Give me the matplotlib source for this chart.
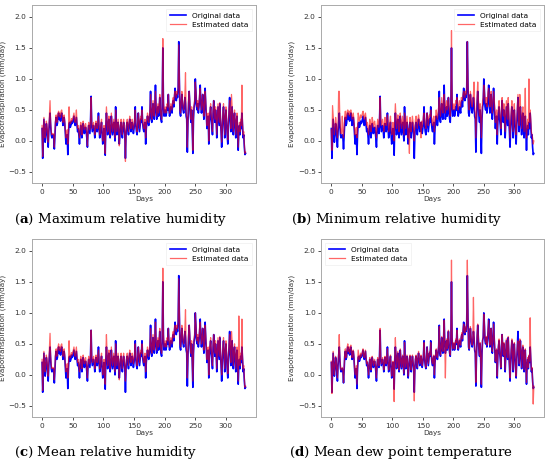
import numpy as np
import matplotlib
matplotlib.use("Agg")
import matplotlib.pyplot as plt

plt.rcParams["mathtext.fontset"] = "dejavuserif"

# daily evapotranspiration (mm/day)
original = [
    0.20, -0.28, 0.05, 0.35, 0.15, -0.02, 0.10, 0.28, 0.20, 0.05,
    -0.10, 0.15, 0.30, 0.45, 0.25, 0.10, 0.05, 0.08, 0.10, 0.05,
    -0.13, 0.10, 0.30, 0.38, 0.25, 0.28, 0.40, 0.45, 0.35, 0.40,
    0.32, 0.42, 0.45, 0.38, 0.25, 0.30, 0.38, 0.28, 0.10, -0.05,
    0.05, 0.10, -0.22, 0.10, 0.28, 0.30, 0.22, 0.25, 0.32, 0.28,
    0.30, 0.35, 0.40, 0.30, 0.25, 0.32, 0.38, 0.25, 0.15, 0.20,
    0.10, -0.05, 0.12, 0.25, 0.20, 0.05, 0.15, 0.28, 0.22, 0.12,
    0.18, 0.22, 0.15, 0.05, -0.10, 0.15, 0.25, 0.18, 0.12, 0.30,
    0.72, 0.25, 0.15, 0.20, 0.25, 0.18, 0.05, 0.15, 0.28, 0.20,
    0.15, 0.25, 0.45, 0.20, 0.05, 0.12, 0.22, 0.30, 0.10, -0.05,
    0.05, 0.20, 0.15, -0.23, 0.25, 0.45, 0.30, 0.10, 0.20, 0.35,
    0.20, 0.05, 0.15, 0.40, 0.25, 0.10, 0.20, 0.30, 0.15, 0.00,
    0.55, 0.25, 0.10, 0.20, 0.30, 0.15, -0.05, 0.10, 0.25, 0.30,
    0.15, 0.05, 0.20, 0.30, 0.20, 0.10, -0.28, 0.10, 0.25, 0.30,
    0.20, 0.10, 0.25, 0.35, 0.25, 0.15, 0.20, 0.30, 0.22, 0.12,
    0.20, 0.30, 0.55, 0.25, 0.15, 0.10, 0.25, 0.45, 0.30, 0.15,
    0.25, 0.35, 0.30, 0.55, 0.30, 0.20, 0.15, 0.25, 0.30, -0.05,
    0.20, 0.30, 0.40, 0.30, 0.25, 0.35, 0.45, 0.80, 0.35, 0.30,
    0.45, 0.60, 0.40, 0.35, 0.55, 0.90, 0.50, 0.35, 0.45, 0.55,
    0.40, 0.50, 0.70, 0.45, 0.35, 0.30, 0.60, 1.50, 0.60, 0.40,
    0.45, 0.50, 0.40, 0.45, 0.55, 0.50, 0.75, 0.50, 0.40, 0.45,
    0.55, 0.50, 0.45, 0.60, 0.65, 0.55, 0.70, 0.85, 0.70, 0.65,
    0.75, 0.70, 0.85, 1.60, 0.95, 0.45, 0.40, 0.55, 0.75, 0.60,
    0.50, 0.45, 0.55, 0.70, 0.60, 0.40, 0.35, -0.18, 0.30, 0.60,
    0.80, 0.60, 0.40, 0.30, 0.50, 0.20, -0.20, 0.35, 0.55, 0.60,
    1.00, 0.80, 0.55, 0.50, 0.60, 0.45, 0.55, 0.70, 0.90, 0.60,
    0.45, 0.55, 0.75, 0.50, 0.35, 0.55, 0.85, 0.60, 0.40, 0.20,
    0.35, 0.40, -0.05, 0.30, 0.45, 0.55, 0.35, 0.25, 0.10, 0.45,
    0.65, 0.45, 0.30, 0.50, 0.35, 0.05, 0.30, 0.55, 0.40, 0.25,
    0.60, 0.35, 0.15, -0.10, 0.20, 0.40, 0.55, 0.30, 0.05, 0.35,
    0.50, 0.30, 0.10, -0.05, 0.25, 0.45, 0.70, 0.35, 0.15, 0.40,
    0.55, 0.30, 0.10, 0.35, 0.45, 0.25, 0.05, 0.30, 0.40, 0.10,
    -0.15, 0.15, 0.25, 0.10, 0.30, 0.20, 0.45, 0.25, 0.05, 0.10,
    -0.10, -0.22, -0.20,
]

est_max_rh = [
    0.25, -0.25, 0.10, 0.38, 0.20, 0.05, 0.15, 0.32, 0.25, 0.10,
    -0.02, 0.20, 0.40, 0.65, 0.30, 0.15, 0.10, 0.12, 0.12, 0.10,
    -0.10, 0.15, 0.35, 0.42, 0.30, 0.32, 0.45, 0.48, 0.40, 0.45,
    0.38, 0.48, 0.50, 0.42, 0.30, 0.35, 0.42, 0.32, 0.15, 0.05,
    0.10, 0.18, -0.05, 0.15, 0.55, 0.35, 0.28, 0.30, 0.36, 0.32,
    0.35, 0.40, 0.45, 0.35, 0.30, 0.38, 0.50, 0.30, 0.20, 0.25,
    0.15, 0.05, 0.18, 0.30, 0.25, 0.10, 0.20, 0.32, 0.26, 0.18,
    0.22, 0.28, 0.20, 0.10, -0.08, 0.20, 0.30, 0.22, 0.18, 0.32,
    0.70, 0.30, 0.20, 0.25, 0.30, 0.22, 0.10, 0.20, 0.32, 0.25,
    0.20, 0.30, 0.40, 0.25, 0.10, 0.18, 0.28, 0.35, 0.15, 0.00,
    0.10, 0.25, 0.20, -0.20, 0.30, 0.55, 0.35, 0.15, 0.25, 0.40,
    0.25, 0.10, 0.20, 0.45, 0.30, 0.15, 0.25, 0.35, 0.20, 0.05,
    0.50, 0.30, 0.15, 0.25, 0.35, 0.20, -0.08, 0.15, 0.30, 0.35,
    0.20, 0.10, 0.25, 0.35, 0.25, 0.15, -0.33, 0.15, 0.30, 0.35,
    0.25, 0.15, 0.30, 0.40, 0.30, 0.20, 0.25, 0.35, 0.28, 0.18,
    0.25, 0.35, 0.50, 0.30, 0.20, 0.15, 0.30, 0.45, 0.35, 0.20,
    0.30, 0.40, 0.35, 0.50, 0.35, 0.25, 0.20, 0.30, 0.35, 0.05,
    0.25, 0.35, 0.45, 0.35, 0.30, 0.40, 0.50, 0.75, 0.40, 0.35,
    0.50, 0.65, 0.45, 0.40, 0.60, 0.80, 0.55, 0.40, 0.50, 0.60,
    0.45, 0.55, 0.75, 0.50, 0.40, 0.35, 0.65, 1.65, 0.65, 0.45,
    0.50, 0.55, 0.45, 0.50, 0.60, 0.55, 0.75, 0.55, 0.45, 0.50,
    0.60, 0.55, 0.50, 0.65, 0.70, 0.60, 0.75, 0.80, 0.75, 0.70,
    0.80, 0.75, 0.85, 1.55, 1.00, 0.50, 0.45, 0.60, 0.80, 0.65,
    0.55, 0.50, 0.60, 0.75, 1.10, 0.45, 0.40, -0.10, 0.35, 0.65,
    0.80, 0.65, 0.45, 0.35, 0.55, 0.25, -0.15, 0.40, 0.60, 0.65,
    0.95, 0.80, 0.60, 0.55, 0.65, 0.50, 0.60, 0.75, 0.85, 0.65,
    0.50, 0.60, 0.75, 0.55, 0.40, 0.60, 0.80, 0.65, 0.45, 0.25,
    0.40, 0.45, 0.00, 0.35, 0.50, 0.60, 0.40, 0.30, 0.15, 0.50,
    0.65, 0.50, 0.35, 0.55, 0.40, 0.10, 0.35, 0.60, 0.45, 0.30,
    0.62, 0.40, 0.20, -0.02, 0.25, 0.45, 0.60, 0.35, 0.10, 0.40,
    0.55, 0.35, 0.15, 0.02, 0.30, 0.50, 0.65, 0.40, 0.20, 0.75,
    0.55, 0.35, 0.15, 0.40, 0.50, 0.30, 0.10, 0.35, 0.45, 0.15,
    -0.10, 0.20, 0.30, 0.15, 0.35, 0.25, 0.90, 0.30, 0.10, 0.15,
    -0.05, -0.20, -0.18,
]

est_min_rh = [
    0.18, -0.15, 0.57, 0.40, 0.25, 0.10, 0.20, 0.38, 0.30, 0.15,
    0.05, 0.25, 0.80, 0.80, 0.35, 0.20, 0.12, 0.15, 0.40, 0.10,
    0.05, 0.20, 0.40, 0.48, 0.35, 0.38, 0.48, 0.50, 0.42, 0.48,
    0.40, 0.48, 0.50, 0.45, 0.35, 0.40, 0.45, 0.35, 0.20, 0.10,
    0.15, 0.22, 0.05, 0.20, 0.45, 0.40, 0.32, 0.35, 0.42, 0.38,
    0.40, 0.45, 0.48, 0.40, 0.35, 0.42, 0.45, 0.35, 0.25, 0.30,
    0.20, 0.10, 0.22, 0.35, 0.30, 0.15, 0.25, 0.38, 0.32, 0.22,
    0.28, 0.32, 0.25, 0.15, 0.05, 0.25, 0.35, 0.28, 0.22, 0.38,
    0.70, 0.35, 0.25, 0.30, 0.35, 0.28, 0.15, 0.25, 0.38, 0.30,
    0.25, 0.35, 0.42, 0.30, 0.15, 0.22, 0.32, 0.40, 0.20, 0.10,
    0.15, 0.30, 0.25, 0.00, 0.35, 0.60, 0.40, 0.20, 0.30, 0.42,
    0.30, 0.15, 0.25, 0.45, 0.35, 0.20, 0.30, 0.40, 0.25, 0.10,
    0.45, 0.35, 0.20, 0.30, 0.40, 0.25, 0.05, 0.20, -0.20, 0.38,
    0.25, 0.15, 0.30, 0.40, 0.30, 0.20, 0.00, 0.20, 0.35, 0.40,
    0.30, 0.20, 0.35, 0.42, 0.35, 0.25, 0.30, 0.05, 0.32, 0.22,
    0.30, 0.40, 0.45, 0.35, 0.25, 0.20, 0.35, 0.45, 0.40, 0.25,
    0.35, 0.42, 0.40, 0.50, 0.40, 0.30, 0.25, 0.35, 0.40, 0.15,
    0.30, 0.40, 0.50, 0.40, 0.35, 0.45, 0.55, 0.70, 0.45, 0.40,
    0.55, 0.70, 0.50, 0.45, 0.65, 0.75, 0.60, 0.45, 0.55, 0.65,
    0.50, 0.60, 0.70, 0.55, 0.45, 0.40, 0.65, 1.78, 0.70, 0.50,
    0.55, 0.60, 0.50, 0.55, 0.65, 0.60, 0.70, 0.60, 0.50, 0.55,
    0.65, 0.60, 0.55, 0.70, 0.70, 0.65, 0.75, 0.80, 0.75, 0.70,
    0.80, 0.75, 0.85, 1.60, 0.95, 0.55, 0.50, 0.65, 0.80, 0.70,
    0.60, 0.55, 0.65, 0.75, 0.95, 0.50, 0.45, 0.05, 0.40, 0.70,
    0.95, 0.70, 0.50, 0.40, 0.60, 0.30, 0.05, 0.45, 0.65, 0.70,
    0.90, 0.80, 0.65, 0.60, 0.70, 0.55, 0.65, 0.80, 0.85, 0.70,
    0.55, 0.65, 0.80, 0.60, 0.45, 0.65, 0.80, 0.70, 0.50, 0.30,
    0.45, 0.50, 0.10, 0.40, 0.55, 0.65, 0.45, 0.35, 0.20, 0.55,
    0.70, 0.55, 0.40, 0.60, 0.45, 0.15, 0.40, 0.65, 0.50, 0.35,
    0.70, 0.45, 0.25, 0.05, 0.30, 0.50, 0.65, 0.40, 0.15, 0.45,
    0.60, 0.40, 0.20, 0.10, 0.35, 0.55, 0.75, 0.45, 0.25, 0.75,
    0.60, 0.40, 0.20, 0.45, 0.55, 0.35, 0.15, 0.40, 0.85, 0.20,
    0.05, 0.25, 0.35, 0.20, 1.00, 0.30, 0.50, 0.35, 0.15, 0.10,
    0.05, -0.05, 0.00,
]

est_mean_rh = [
    0.25, -0.25, 0.10, 0.38, 0.20, 0.05, 0.15, 0.32, 0.25, 0.10,
    -0.02, 0.20, 0.40, 0.67, 0.30, 0.15, 0.10, 0.12, 0.12, 0.10,
    -0.08, 0.15, 0.35, 0.42, 0.30, 0.32, 0.45, 0.50, 0.40, 0.45,
    0.38, 0.48, 0.50, 0.42, 0.30, 0.35, 0.42, 0.32, 0.15, 0.05,
    0.10, 0.18, -0.05, 0.15, 0.55, 0.35, 0.28, 0.30, 0.36, 0.32,
    0.35, 0.40, 0.45, 0.35, 0.30, 0.38, 0.45, 0.30, 0.20, 0.25,
    0.15, 0.05, 0.18, 0.30, 0.25, 0.10, 0.20, 0.32, 0.26, 0.18,
    0.22, 0.28, 0.20, 0.10, -0.05, 0.20, 0.30, 0.22, 0.18, 0.32,
    0.72, 0.30, 0.20, 0.25, 0.30, 0.22, 0.10, 0.20, 0.32, 0.25,
    0.20, 0.30, 0.40, 0.25, 0.10, 0.18, 0.28, 0.35, 0.15, 0.00,
    0.10, 0.25, 0.20, -0.15, 0.30, 0.65, 0.35, 0.15, 0.25, 0.40,
    0.25, 0.10, 0.20, 0.45, 0.30, 0.15, 0.25, 0.35, 0.20, 0.05,
    0.50, 0.30, 0.15, 0.25, 0.35, 0.20, -0.08, 0.15, 0.30, 0.35,
    0.20, 0.10, 0.25, 0.35, 0.25, 0.15, -0.10, 0.15, 0.30, 0.35,
    0.25, 0.15, 0.30, 0.40, 0.30, 0.20, 0.25, 0.35, 0.28, 0.18,
    0.25, 0.35, 0.50, 0.30, 0.20, 0.15, 0.30, 0.45, 0.35, 0.20,
    0.30, 0.40, 0.35, 0.50, 0.35, 0.25, 0.20, 0.30, 0.35, 0.05,
    0.25, 0.35, 0.45, 0.35, 0.30, 0.40, 0.50, 0.75, 0.40, 0.35,
    0.50, 0.65, 0.45, 0.40, 0.60, 0.85, 0.55, 0.40, 0.50, 0.60,
    0.45, 0.55, 0.75, 0.50, 0.40, 0.35, 0.65, 1.72, 0.65, 0.45,
    0.50, 0.55, 0.45, 0.50, 0.60, 0.55, 0.75, 0.55, 0.45, 0.50,
    0.60, 0.55, 0.50, 0.65, 0.70, 0.60, 0.75, 0.80, 0.75, 0.70,
    0.80, 0.75, 0.85, 1.55, 1.00, 0.50, 0.45, 0.60, 0.80, 0.65,
    0.55, 0.50, 0.60, 0.75, 1.05, 0.45, 0.40, -0.05, 0.35, 0.65,
    0.80, 0.65, 0.45, 0.35, 0.55, 0.25, -0.10, 0.40, 0.60, 0.65,
    1.00, 0.80, 0.60, 0.55, 0.65, 0.50, 0.60, 0.75, 0.85, 0.65,
    0.50, 0.60, 0.75, 0.55, 0.40, 0.60, 0.80, 0.65, 0.45, 0.25,
    0.40, 0.45, 0.00, 0.35, 0.50, 0.60, 0.40, 0.30, 0.15, 0.50,
    0.65, 0.50, 0.35, 0.55, 0.40, 0.10, 0.35, 0.60, 0.45, 0.30,
    0.62, 0.40, 0.20, 0.00, 0.25, 0.45, 0.60, 0.35, 0.10, 0.40,
    0.55, 0.35, 0.15, 0.02, 0.30, 0.50, 0.65, 0.40, 0.20, 0.70,
    0.55, 0.35, 0.15, 0.40, 0.50, 0.30, 0.10, 0.35, 0.45, 0.15,
    -0.10, 0.95, 0.30, 0.15, 0.35, 0.25, 0.90, 0.30, 0.10, 0.15,
    -0.05, -0.20, -0.18,
]

est_dew_point = [
    0.22, -0.30, 0.08, 0.38, 0.18, 0.00, 0.12, 0.30, 0.22, 0.08,
    -0.05, 0.18, 0.35, 0.65, 0.28, 0.12, 0.08, 0.10, 0.12, 0.08,
    -0.12, 0.12, 0.35, 0.42, 0.28, 0.30, 0.45, 0.50, 0.38, 0.45,
    0.35, 0.45, 0.48, 0.40, 0.28, 0.32, 0.40, 0.30, 0.12, 0.00,
    0.08, 0.15, -0.15, 0.12, 0.40, 0.32, 0.25, 0.28, 0.35, 0.30,
    0.32, 0.38, 0.42, 0.32, 0.28, 0.35, 0.40, 0.28, 0.18, 0.22,
    0.12, 0.00, 0.15, 0.28, 0.22, 0.08, 0.18, 0.30, 0.25, 0.15,
    0.20, 0.25, 0.18, 0.08, -0.05, 0.18, 0.28, 0.20, 0.15, 0.32,
    0.75, 0.28, 0.18, 0.22, 0.28, 0.20, 0.08, 0.18, 0.30, 0.22,
    0.18, 0.28, 0.42, 0.22, 0.08, 0.15, 0.25, 0.32, 0.12, -0.02,
    0.08, 0.22, 0.18, -0.43, 0.28, 0.60, 0.32, 0.12, 0.22, 0.38,
    0.22, 0.08, 0.18, 0.42, 0.28, 0.12, 0.22, 0.32, 0.18, 0.02,
    0.52, 0.28, 0.12, 0.22, 0.32, 0.18, -0.02, 0.12, 0.28, 0.32,
    0.18, 0.08, 0.22, 0.32, 0.22, 0.12, -0.42, 0.12, 0.28, 0.32,
    0.22, 0.12, 0.28, 0.38, 0.28, 0.18, 0.22, 0.32, 0.25, 0.15,
    0.22, 0.32, 0.52, 0.28, 0.18, 0.12, 0.28, 0.45, 0.32, 0.18,
    0.28, 0.38, 0.32, 0.52, 0.32, 0.22, 0.18, 0.28, 0.32, 0.00,
    0.22, 0.32, 0.42, 0.32, 0.28, 0.38, 0.48, 0.78, 0.38, 0.32,
    0.48, 0.62, 0.42, 0.38, 0.58, 0.88, 0.52, -0.05, 0.48, 0.58,
    0.42, 0.52, 0.72, 0.48, 0.38, 0.32, 0.62, 1.85, 0.62, 0.42,
    0.48, 0.52, 0.42, 0.48, 0.58, 0.52, 0.72, 0.52, 0.42, 0.48,
    0.58, 0.52, 0.48, 0.62, 0.68, 0.58, 0.72, 0.82, 0.72, 0.68,
    0.78, 0.72, 0.85, 1.85, 0.98, 0.48, 0.42, 0.58, 0.78, 0.62,
    0.52, 0.48, 0.58, 1.25, 0.62, 0.42, 0.38, -0.12, 0.32, 0.62,
    0.82, 0.62, 0.42, 0.32, 0.52, 0.22, -0.15, 0.38, 0.58, 0.62,
    0.98, 0.80, 0.58, 0.52, 0.62, 0.48, 0.58, 0.72, 0.88, 0.62,
    0.48, 0.58, 0.75, 0.52, 0.38, 0.58, 0.82, 0.62, 0.42, 0.22,
    0.38, 0.42, -0.02, 0.32, 0.48, 0.58, 0.38, 0.28, 0.12, 0.48,
    0.65, 0.48, 0.32, 0.52, 0.38, 0.08, 0.32, 0.58, 0.42, 0.28,
    0.62, 0.38, 0.18, -0.05, 0.22, 0.42, 0.58, 0.32, 0.08, 0.38,
    0.52, 0.32, 0.12, -0.02, 0.28, 0.48, 0.55, 0.38, 0.18, 0.58,
    0.55, 0.32, 0.12, 0.38, 0.48, 0.28, 0.08, 0.32, 0.42, 0.12,
    -0.12, 0.18, 0.28, 0.12, 0.32, 0.22, 0.92, 0.28, 0.08, 0.12,
    -0.08, -0.47, -0.18,
]

panels = [
    ("a", "Maximum relative humidity", est_max_rh, "upper right"),
    ("b", "Minimum relative humidity", est_min_rh, "upper right"),
    ("c", "Mean relative humidity", est_mean_rh, "upper right"),
    ("d", "Mean dew point temperature", est_dew_point, "upper left"),
]

days = np.arange(len(original))

fig = plt.figure(figsize=(5.5, 4.66), dpi=100)
# axes boxes [left, bottom, width, height] in figure fraction
boxes = [
    [0.058, 0.607, 0.407, 0.382],
    [0.584, 0.607, 0.405, 0.382],
    [0.058, 0.105, 0.407, 0.382],
    [0.584, 0.105, 0.405, 0.382],
]
caption_pos = [(0.025, 0.528), (0.529, 0.528), (0.025, 0.028), (0.525, 0.028)]

for (letter, name, est, loc), box, (cx, cy) in zip(panels, boxes, caption_pos):
    ax = fig.add_axes(box)
    ax.plot(days, original, color="#0000ff", lw=1.2, label="Original data")
    ax.plot(days, est, color="#ff0000", lw=0.9, alpha=0.6, label="Estimated data")
    ax.set_ylim(-0.68, 2.19)
    ax.set_xticks([0, 50, 100, 150, 200, 250, 300])
    ax.set_yticks([-0.5, 0.0, 0.5, 1.0, 1.5, 2.0])
    ax.tick_params(labelsize=5.3, length=2.5, width=0.6, pad=1.5, colors="#333333")
    for sp in ax.spines.values():
        sp.set_color("#aaaaaa")
        sp.set_linewidth(0.7)
    ax.set_xlabel("Days", fontsize=5.2, labelpad=1, color="#333333")
    ax.set_ylabel("Evapotranspiration (mm/day)", fontsize=5.2, labelpad=2, color="#333333")
    leg = ax.legend(loc=loc, fontsize=5.3, handlelength=2.2, borderpad=0.5,
                    labelspacing=0.4, framealpha=1, edgecolor="#eeeeee", fancybox=False)
    leg.get_frame().set_linewidth(0.5)
    fig.text(cx, cy, "(" + r"$\mathbf{" + letter + r"}$" + ") " + name, fontsize=9.6,
             family="DejaVu Serif", va="center")

fig.savefig("out.png", dpi=100)
